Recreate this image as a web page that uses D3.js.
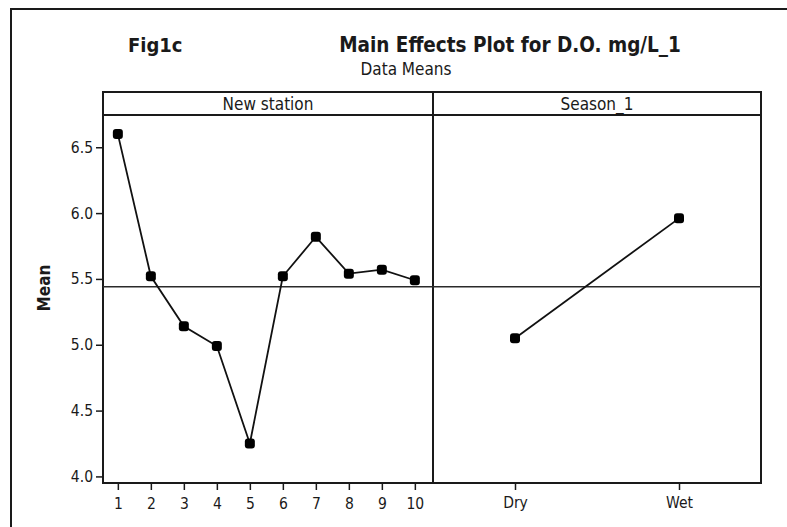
<!DOCTYPE html>
<html>
<head>
<meta charset="utf-8">
<script src="https://cdn.jsdelivr.net/npm/d3@7/dist/d3.min.js"></script>
<style>
  html, body { margin: 0; padding: 0; background: #fff; }
  svg { display: block; }
  text { font-family: "DejaVu Sans Condensed", "DejaVu Sans", sans-serif; fill: #1a1a1a; }
</style>
</head>
<body>
<svg id="chart" width="787" height="527"></svg>
<script>
// Main effects of station and season on dissolved oxygen (mg/L), data means
const stations = ["1", "2", "3", "4", "5", "6", "7", "8", "9", "10"];
const stationMeans = [6.60, 5.52, 5.14, 4.99, 4.25, 5.52, 5.82, 5.54, 5.57, 5.49];
const seasons = ["Dry", "Wet"];
const seasonMeans = [5.05, 5.96];
const grandMean = 5.44;
const yTicks = [4.0, 4.5, 5.0, 5.5, 6.0, 6.5];
const panelTitles = ["New station", "Season_1"];

const svg = d3.select("#chart");
const W = 787, H = 527;

// layout
const plotTop = 115, plotBottom = 483, headTop = 92;
const p1 = { x0: 103, x1: 433 };
const p2 = { x0: 433, x1: 761 };

const y = d3.scaleLinear().domain([3.95, 6.745]).range([plotBottom, plotTop]);
const x1 = d3.scaleLinear().domain([0.55, 10.55]).range([p1.x0, p1.x1]);
const x2 = d3.scalePoint().domain(seasons).range([p2.x0, p2.x1]).padding(0.5);

// outer frame
svg.append("path")
  .attr("d", `M11,${H + 5} L11,9 L${W + 5},9`)
  .attr("fill", "none").attr("stroke", "#1a1a1a").attr("stroke-width", 2);

// titles
svg.append("text").attr("x", 128).attr("y", 52)
  .attr("font-size", 20).attr("font-weight", "bold").text("Fig1c");
svg.append("text").attr("x", 510).attr("y", 52).attr("text-anchor", "middle")
  .attr("font-size", 20.5).attr("font-weight", "bold").text("Main Effects Plot for D.O. mg/L_1");
svg.append("text").attr("x", 406).attr("y", 75).attr("text-anchor", "middle")
  .attr("font-size", 17).text("Data Means");

// panel headers and boxes
[p1, p2].forEach((p, i) => {
  svg.append("rect").attr("x", p.x0).attr("y", headTop)
    .attr("width", p.x1 - p.x0).attr("height", plotTop - headTop)
    .attr("fill", "none").attr("stroke", "#1a1a1a").attr("stroke-width", 2);
  svg.append("text").attr("x", (p.x0 + p.x1) / 2).attr("y", 110)
    .attr("text-anchor", "middle").attr("font-size", 17).text(panelTitles[i]);
  svg.append("rect").attr("x", p.x0).attr("y", plotTop)
    .attr("width", p.x1 - p.x0).attr("height", plotBottom - plotTop)
    .attr("fill", "none").attr("stroke", "#1a1a1a").attr("stroke-width", 2);
});

// y axis
const yAxis = svg.append("g").attr("transform", `translate(${p1.x0},0)`)
  .call(d3.axisLeft(y).tickValues(yTicks).tickFormat(d3.format(".1f")).tickSize(7).tickPadding(3));
yAxis.select(".domain").remove();
yAxis.selectAll("line").attr("stroke", "#1a1a1a").attr("stroke-width", 1.5);
yAxis.selectAll("text").attr("font-size", 15.5).attr("font-family", null);

// x axes
const xa1 = svg.append("g").attr("transform", `translate(0,${plotBottom})`)
  .call(d3.axisBottom(x1).tickValues(stations.map(Number)).tickFormat(d => String(d)).tickSize(7).tickPadding(8));
const xa2 = svg.append("g").attr("transform", `translate(0,${plotBottom})`)
  .call(d3.axisBottom(x2).tickSize(7).tickPadding(7));
[xa1, xa2].forEach(g => {
  g.select(".domain").remove();
  g.selectAll("line").attr("stroke", "#1a1a1a").attr("stroke-width", 1.5);
  g.selectAll("text").attr("font-size", 15.5).attr("font-family", null);
});

// axis title
svg.append("text").attr("transform", `translate(50,288) rotate(-90)`)
  .attr("text-anchor", "middle").attr("font-size", 17).attr("font-weight", "bold").text("Mean");

// grand mean reference line
svg.append("line").attr("x1", p1.x0).attr("x2", p2.x1)
  .attr("y1", y(grandMean)).attr("y2", y(grandMean))
  .attr("stroke", "#2a2a2a").attr("stroke-width", 1.6);

// station and season effects
const stData = stations.map((s, i) => ({ x: x1(+s), y: y(stationMeans[i]) }));
const seData = seasons.map((s, i) => ({ x: x2(s), y: y(seasonMeans[i]) }));
const line = d3.line().x(d => d.x).y(d => d.y);

[stData, seData].forEach(data => {
  svg.append("path").datum(data).attr("d", line)
    .attr("fill", "none").attr("stroke", "#111").attr("stroke-width", 1.8);
  svg.append("g").selectAll("rect").data(data).join("rect")
    .attr("x", d => d.x - 5).attr("y", d => d.y - 5)
    .attr("width", 10).attr("height", 10).attr("rx", 3)
    .attr("fill", "#000");
});
</script>
</body>
</html>
